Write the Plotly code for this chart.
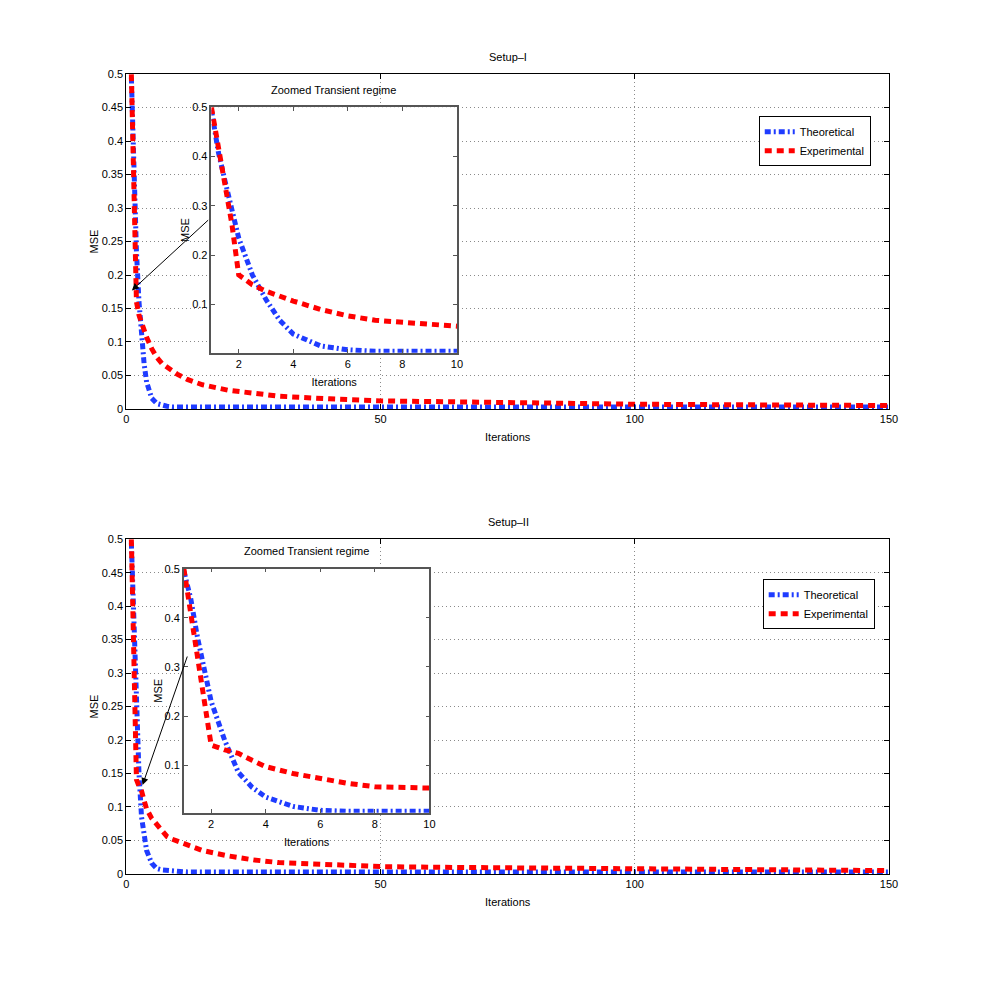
import plotly.graph_objects as go

# Iteration samples (denser in the transient part)
iters = [1, 1.25, 1.5, 1.75, 2, 2.5, 3, 3.5, 4, 5, 6, 7, 8, 9, 10,
         12, 15, 20, 25, 30, 40, 50, 60, 75, 100, 125, 150]

# Setup-I
theo_1 = [0.495, 0.41, 0.35, 0.29, 0.235, 0.16, 0.11, 0.068, 0.04, 0.016, 0.008, 0.005, 0.004, 0.003, 0.003,
          0.003, 0.003, 0.003, 0.003, 0.003, 0.003, 0.003, 0.003, 0.003, 0.003, 0.003, 0.003]
exp_1 = [0.5, 0.425, 0.347, 0.263, 0.16, 0.14, 0.127, 0.117, 0.107, 0.09, 0.077, 0.068, 0.062, 0.056, 0.052,
         0.044, 0.036, 0.028, 0.023, 0.019, 0.015, 0.012, 0.011, 0.009, 0.007, 0.006, 0.005]

# Setup-II
theo_2 = [0.495, 0.44, 0.36, 0.29, 0.23, 0.15, 0.085, 0.055, 0.035, 0.016, 0.008, 0.006, 0.005, 0.004, 0.004,
          0.003, 0.003, 0.003, 0.003, 0.003, 0.003, 0.003, 0.003, 0.003, 0.003, 0.003, 0.003]
exp_2 = [0.5, 0.41, 0.328, 0.233, 0.141, 0.131, 0.124, 0.11, 0.097, 0.083, 0.073, 0.063, 0.056, 0.052, 0.049,
         0.043, 0.035, 0.027, 0.021, 0.017, 0.014, 0.011, 0.01, 0.009, 0.007, 0.006, 0.005]

main_xticks = [0, 50, 100, 150]
main_yticks = [0, 0.05, 0.1, 0.15, 0.2, 0.25, 0.3, 0.35, 0.4, 0.45, 0.5]
main_ylabels = ["0", "0.05", "0.1", "0.15", "0.2", "0.25", "0.3", "0.35", "0.4", "0.45", "0.5"]
inset_xticks = [2, 4, 6, 8, 10]
inset_yticks = [0.1, 0.2, 0.3, 0.4, 0.5]
inset_ylabels = ["0.1", "0.2", "0.3", "0.4", "0.5"]

FONT = "Liberation Sans Narrow, Liberation Sans, Arial, sans-serif"
BLUE = "#1f3cff"
RED = "#ff0000"
W = H = 981


# layout pixel positions -> paper fractions
def px_x(a, b):
    return [a / W, b / W]


def px_y(top, bottom):
    return [1 - bottom / H, 1 - top / H]


fig = go.Figure()

panels = [
    # (theo, exp, main axes suffix, inset axes suffix, legend)
    (theo_1, exp_1, "", "2", "legend"),
    (theo_2, exp_2, "3", "4", "legend2"),
]

theo_line = dict(color=BLUE, width=5, dash="6px,3px,2px,3px")
exp_line = dict(color=RED, width=5, dash="7px,5px")

for theo, exp, m, ins, leg in panels:
    fig.add_trace(go.Scatter(x=iters, y=theo, mode="lines", name="Theoretical", line=theo_line,
                             xaxis="x" + m, yaxis="y" + m, legend=leg))
    fig.add_trace(go.Scatter(x=iters, y=exp, mode="lines", name="Experimental", line=exp_line,
                             xaxis="x" + m, yaxis="y" + m, legend=leg))
    fig.add_trace(go.Scatter(x=iters, y=theo, mode="lines", showlegend=False, line=theo_line,
                             xaxis="x" + ins, yaxis="y" + ins))
    fig.add_trace(go.Scatter(x=iters, y=exp, mode="lines", showlegend=False, line=exp_line,
                             xaxis="x" + ins, yaxis="y" + ins))

tickfont = dict(family=FONT, size=11, color="black")
GRID = dict(showgrid=True, gridcolor="#8a8a8a", griddash="1px,3px", gridwidth=1)


def main_x(domain, anchor):
    return dict(domain=domain, anchor=anchor, range=[0, 150], tickvals=main_xticks,
                showline=True, linecolor="black", linewidth=1, mirror="ticks",
                ticks="inside", ticklen=5, tickcolor="black", tickfont=tickfont,
                zeroline=False, title=dict(text="Iterations", font=tickfont, standoff=9),
                **GRID)


def main_y(domain, anchor):
    return dict(domain=domain, anchor=anchor, range=[0, 0.5], tickvals=main_yticks,
                ticktext=main_ylabels, showline=True, linecolor="black", linewidth=1,
                mirror="ticks", ticks="inside", ticklen=5, tickcolor="black",
                tickfont=tickfont, zeroline=False,
                title=dict(text="MSE", font=tickfont, standoff=0), **GRID)


def inset_x(domain, anchor):
    return dict(domain=domain, anchor=anchor, range=[1, 10], tickvals=inset_xticks,
                showline=True, linecolor="#555555", linewidth=1.5, mirror="ticks",
                ticks="inside", ticklen=4, tickcolor="#555555", tickfont=tickfont,
                showgrid=False, zeroline=False,
                title=dict(text="Iterations", font=tickfont, standoff=10))


def inset_y(domain, anchor, lo):
    return dict(domain=domain, anchor=anchor, range=[lo, 0.5], tickvals=inset_yticks,
                ticktext=inset_ylabels, showline=True, linecolor="#555555", linewidth=1.5,
                mirror="ticks", ticks="inside", ticklen=4, tickcolor="#555555",
                tickfont=tickfont, showgrid=False, zeroline=False,
                title=dict(text="MSE", font=tickfont, standoff=0))


legend_style = dict(bgcolor="white", bordercolor="black", borderwidth=1,
                    font=dict(family=FONT, size=11, color="black"),
                    xanchor="left", yanchor="top", itemwidth=30, tracegroupgap=0)


def label(text, x, y):
    return dict(text=text, x=x / W, y=1 - y / H, xref="paper", yref="paper",
                xanchor="center", yanchor="middle", showarrow=False, font=tickfont)


fig.update_layout(
    width=W, height=H, autosize=False,
    margin=dict(l=0, r=0, t=0, b=0),
    paper_bgcolor="white", plot_bgcolor="white",
    font=dict(family=FONT, size=11, color="black"),
    xaxis=main_x(px_x(116.7, 888.9), "y"),
    yaxis=main_y(px_y(60.9, 399.8), "x"),
    xaxis2=inset_x(px_x(202.9, 451.5), "y2"),
    yaxis2=inset_y(px_y(94.4, 343.0), "x2", 0.002),
    xaxis3=main_x(px_x(116.7, 888.9), "y3"),
    yaxis3=main_y(px_y(531.7, 870.6), "x3"),
    xaxis4=inset_x(px_x(175.0, 423.6), "y4"),
    yaxis4=inset_y(px_y(561.6, 808.7), "x4", 0.003),
    legend=dict(x=757 / W, y=1 - 103.5 / H, **legend_style),
    legend2=dict(x=761 / W, y=1 - 572.3 / H, **legend_style),
    annotations=[
        label("Setup–I", 503.3, 43.6),
        label("Setup–II", 503.3, 514.5),
        label("Zoomed Transient regime", 326.7, 77.1),
        label("Zoomed Transient regime", 299.3, 543.9),
        dict(x=1.1, y=0.177, xref="x", yref="y", ax=16.4, ay=0.284, axref="x", ayref="y",
             showarrow=True, arrowhead=2, arrowsize=1.4, arrowwidth=1, arrowcolor="black",
             text=""),
        dict(x=3.2, y=0.133, xref="x3", yref="y3", ax=12.1, ay=0.327, axref="x3", ayref="y3",
             showarrow=True, arrowhead=2, arrowsize=1.4, arrowwidth=1, arrowcolor="black",
             text=""),
    ],
)

fig.write_html("out.html")
